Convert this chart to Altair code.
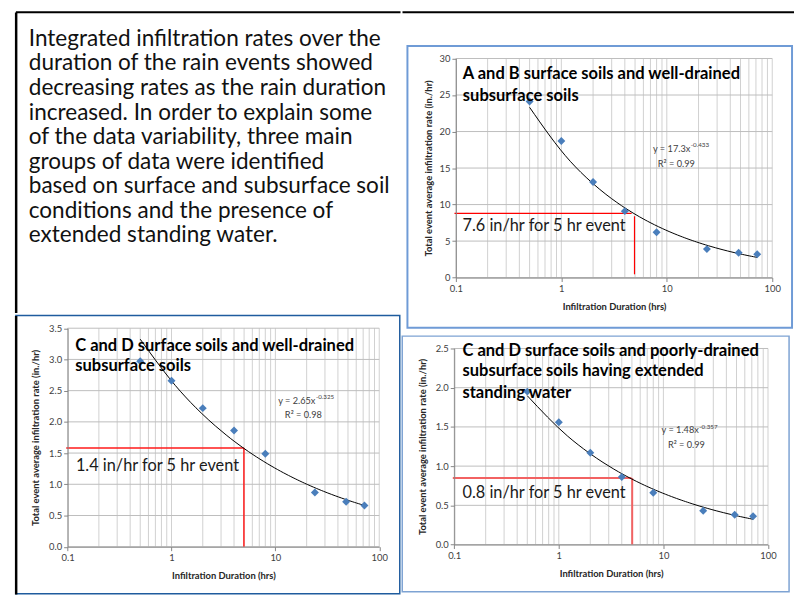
import altair as alt
import pandas as pd

FONT = "Lato"

# ---------------- data ----------------
intro_lines = [
    "Integrated infiltration rates over the",
    "duration of the rain events showed",
    "decreasing rates as the rain duration",
    "increased. In order to explain some",
    "of the data variability, three main",
    "groups of data were identified",
    "based on surface and subsurface soil",
    "conditions and the presence of",
    "extended standing water.",
]

durations = [0.5, 1, 2, 4, 8, 24, 48, 72]
rates_ab_well = [24.1, 18.7, 13.1, 9.1, 6.2, 3.9, 3.4, 3.2]
rates_cd_well = [2.97, 2.66, 2.22, 1.86, 1.49, 0.87, 0.72, 0.66]
rates_cd_poor = [1.95, 1.56, 1.17, 0.86, 0.66, 0.43, 0.38, 0.36]

x_minor_grid = [0.1, 0.2, 0.3, 0.4, 0.5, 0.6, 0.7, 0.8, 0.9,
                1, 2, 3, 4, 5, 6, 7, 8, 9,
                10, 20, 30, 40, 50, 60, 70, 80, 90, 100]
x_major_ticks = [0.1, 1, 10, 100]
y_ticks_ab_well = [0, 5, 10, 15, 20, 25, 30]
y_ticks_cd_well = [0, 0.5, 1.0, 1.5, 2.0, 2.5, 3.0, 3.5]
y_ticks_cd_poor = [0, 0.5, 1.0, 1.5, 2.0, 2.5]

x_title = "Infiltration Duration (hrs)"
y_title = "Total event average infiltration rate (in./hr)"

titles_ab_well = ["A and B surface soils and well-drained", "subsurface soils"]
titles_cd_well = ["C and D surface soils and well-drained", "subsurface soils"]
titles_cd_poor = ["C and D surface soils and poorly-drained",
                  "subsurface soils having extended", "standing water"]

# ---------------- layout / style ----------------
AXC = "#868686"
panels = {
    "ab_well": dict(
        rates=rates_ab_well, yticks=y_ticks_ab_well, yfmt="d", ydom=[0, 30],
        W=398, H=324, xr=[55, 375], yr=[269.3, 47.7], x_off=-54.7, y_off=-55, ytp=6,
        title=titles_ab_well, title_x=0.1164, title_y=[27.9, 24.9],
        eq="y = 17.3x", sup="-0.433", eq_x=16.7, eq_y=17.6,
        r2="R² = 0.99", r2_x=12.3, r2_y=15.57,
        note="7.6 in/hr for 5 hr event", note_x=0.1155, note_y=7.08,
        hline=(0.097, 4.64, 8.8), vline=(4.94, 0.45, 8.4),
        red="#ff0000", red_w=1.2,
        border=(6, 395, 35, 320), border_c="#6f9bd6", border_w=2,
        frame_top=True, frame_left=False,
    ),
    "cd_well": dict(
        rates=rates_cd_well, yticks=y_ticks_cd_well, yfmt=".1f", ydom=[0, 3.5],
        W=390, H=284, xr=[53.3, 368.5], yr=[234.5, 13.5], x_off=-49.5, y_off=-53.3, ytp=8,
        title=titles_cd_well, title_x=0.1184, title_y=[3.22, 2.89],
        eq="y = 2.65x", sup="-0.325", eq_x=24.3, eq_y=2.336,
        r2="R² = 0.98", r2_x=18.6, r2_y=2.114,
        note="1.4 in/hr for 5 hr event", note_x=0.1202, note_y=1.29,
        hline=(0.097, 4.98, 1.58), vline=(4.98, 0, 1.58),
        red="#ff1a1a", red_w=1.5,
        border=(1, 389.25, 0.75, 282), border_c="#1f5c9e", border_w=1.5,
        frame_top=False, frame_left=True,
    ),
    "cd_poor": dict(
        rates=rates_cd_poor, yticks=y_ticks_cd_poor, yfmt=".1f", ydom=[0, 2.5],
        W=398, H=265, xr=[53.3, 370.7], yr=[215.3, 17], x_off=-49.7, y_off=-53.3, ytp=8,
        title=titles_cd_poor, title_x=0.12, title_y=[2.466, 2.214, 1.929],
        eq="y = 1.48x", sup="-0.357", eq_x=21.8, eq_y=1.454,
        r2="R² = 0.99", r2_x=16.6, r2_y=1.268,
        note="0.8 in/hr for 5 hr event", note_x=0.12, note_y=0.659,
        hline=(0.097, 4.95, 0.848), vline=(5.03, 0, 0.848),
        red="#f26262", red_w=2,
        border=(0.75, 392, 4.5, 263), border_c="#7ea3d3", border_w=1.5,
        frame_top=False, frame_left=False,
    ),
}


def one_row():
    return pd.DataFrame({"a": [0]})


def build_panel(p):
    X = alt.X(
        "x:Q",
        scale=alt.Scale(type="log", domain=[0.1, 100], range=p["xr"], nice=False),
        axis=alt.Axis(
            title=x_title, values=x_major_ticks, format="~g", grid=False,
            offset=p["x_off"], tickSize=4, tickColor=AXC, domainColor=AXC,
            labelFont=FONT, labelFontSize=9.5, labelColor="#404040", labelPadding=2,
            labelFlush=False, labelOverlap=False,
            titleFont=FONT, titleFontSize=9.5, titleFontWeight="bold", titleColor="#262626",
            titlePadding=9, zindex=1,
        ),
    )
    Y = alt.Y(
        "y:Q",
        scale=alt.Scale(domain=p["ydom"], range=p["yr"], nice=False, zero=False),
        axis=alt.Axis(
            title=y_title, values=p["yticks"], format=p["yfmt"], grid=False,
            offset=p["y_off"], tickSize=4, tickColor=AXC, domainColor=AXC,
            labelFont=FONT, labelFontSize=9.5, labelColor="#404040", labelPadding=2,
            labelFlush=False, labelOverlap=False, minExtent=0,
            titleFont=FONT, titleFontSize=9.5, titleFontWeight="bold", titleColor="#262626",
            titlePadding=p["ytp"], zindex=1,
        ),
    )
    ymin, ymax = p["ydom"]
    vgrid = pd.DataFrame({"x": x_minor_grid, "y": ymin, "y2": ymax})
    hgrid = pd.DataFrame({"y": p["yticks"], "x": 0.1, "x2": 100})
    pts = pd.DataFrame({"x": durations, "y": p["rates"]})
    h0, h1, hy = p["hline"]
    vx, v0, v1 = p["vline"]
    hl = pd.DataFrame({"x": [h0], "x2": [h1], "y": [hy]})
    vl = pd.DataFrame({"x": [vx], "y": [v0], "y2": [v1]})
    tl = pd.DataFrame({"x": p["title_x"], "y": p["title_y"], "t": p["title"]})
    eq = pd.DataFrame({"x": [p["eq_x"]], "y": [p["eq_y"]], "t": [p["eq"]], "s": [p["sup"]]})
    r2 = pd.DataFrame({"x": [p["r2_x"]], "y": [p["r2_y"]], "t": [p["r2"]]})
    nt = pd.DataFrame({"x": [p["note_x"]], "y": [p["note_y"]], "t": [p["note"]]})

    layers = [
        alt.Chart(vgrid).mark_rule(color="#d0d0d0", strokeWidth=1).encode(x=X, y=Y, y2="y2:Q"),
        alt.Chart(hgrid).mark_rule(color="#bdbdbd", strokeWidth=1).encode(y=Y, x=X, x2="x2:Q"),
        alt.Chart(hl).mark_rule(color=p["red"], strokeWidth=p["red_w"]).encode(x=X, x2="x2:Q", y=Y),
        alt.Chart(vl).mark_rule(color=p["red"], strokeWidth=p["red_w"]).encode(x=X, y=Y, y2="y2:Q"),
        alt.Chart(pts).transform_regression("x", "y", method="pow", extent=[0.5, 72])
        .mark_line(color="black", strokeWidth=1, interpolate="monotone").encode(x=X, y=Y),
        alt.Chart(pts).mark_point(shape="diamond", filled=True, size=65, color="#4a7ebb", opacity=1)
        .encode(x=X, y=Y),
        alt.Chart(tl).mark_text(align="left", baseline="middle", font=FONT, fontSize=16.7,
                                fontWeight="bold", color="#000000").encode(x=X, y=Y, text="t:N"),
        alt.Chart(eq).mark_text(align="right", baseline="middle", font=FONT, fontSize=9.3,
                                color="#404040").encode(x=X, y=Y, text="t:N"),
        alt.Chart(eq).mark_text(align="left", baseline="middle", font=FONT, fontSize=6.3,
                                color="#404040", dy=-4, dx=0.5).encode(x=X, y=Y, text="s:N"),
        alt.Chart(r2).mark_text(align="center", baseline="middle", font=FONT, fontSize=9.3,
                                color="#404040").encode(x=X, y=Y, text="t:N"),
        alt.Chart(nt).mark_text(align="left", baseline="middle", font=FONT, fontSize=16.5,
                                color="#1a1a1a").encode(x=X, y=Y, text="t:N"),
    ]
    b0, b1, b2, b3 = p["border"]
    layers.append(
        alt.Chart(one_row()).mark_rect(fill="transparent", stroke=p["border_c"],
                                       strokeWidth=p["border_w"])
        .encode(x=alt.value(b0), x2=alt.value(b1), y=alt.value(b2), y2=alt.value(b3))
    )
    if p["frame_top"]:
        layers.append(
            alt.Chart(one_row()).mark_rule(color="black", strokeWidth=2)
            .encode(x=alt.value(1), x2=alt.value(p["W"] - 1), y=alt.value(1))
        )
    if p["frame_left"]:
        layers.append(
            alt.Chart(one_row()).mark_rule(color="black", strokeWidth=2.5)
            .encode(x=alt.value(1.25), y=alt.value(1.25), y2=alt.value(p["H"] - 1.25))
        )
    return alt.layer(*layers).properties(width=p["W"], height=p["H"])


# ---------------- text panel ----------------
intro_df = pd.DataFrame({"line": list(range(len(intro_lines))), "text": intro_lines})
TW, TH = 390, 305
text_panel = alt.layer(
    alt.Chart(intro_df).mark_text(align="left", baseline="middle", font=FONT, fontSize=22.8,
                                  color="#111111")
    .encode(x=alt.value(14),
            y=alt.Y("line:Q", scale=alt.Scale(domain=[0, 8], range=[28, 226.5], nice=False,
                                              zero=False), axis=None),
            text="text:N"),
    alt.Chart(one_row()).mark_rule(color="black", strokeWidth=2.5)
    .encode(x=alt.value(1.25), y=alt.value(1.25), y2=alt.value(TH)),
    alt.Chart(one_row()).mark_rule(color="black", strokeWidth=2)
    .encode(x=alt.value(1), x2=alt.value(TW), y=alt.value(1)),
).properties(width=TW, height=TH)

p1 = build_panel(panels["ab_well"])
p2 = build_panel(panels["cd_well"])
p3 = build_panel(panels["cd_poor"])

left = alt.vconcat(text_panel, p2, spacing=0)
right = alt.vconcat(p1, p3, spacing=0)
chart = (
    alt.hconcat(left, right, spacing=0)
    .properties(padding={"left": 7, "top": 0, "right": 0, "bottom": 0}, background="white")
    .configure_view(strokeWidth=0)
)

chart.save("out.html", embed_options={"renderer": "svg", "actions": False})
